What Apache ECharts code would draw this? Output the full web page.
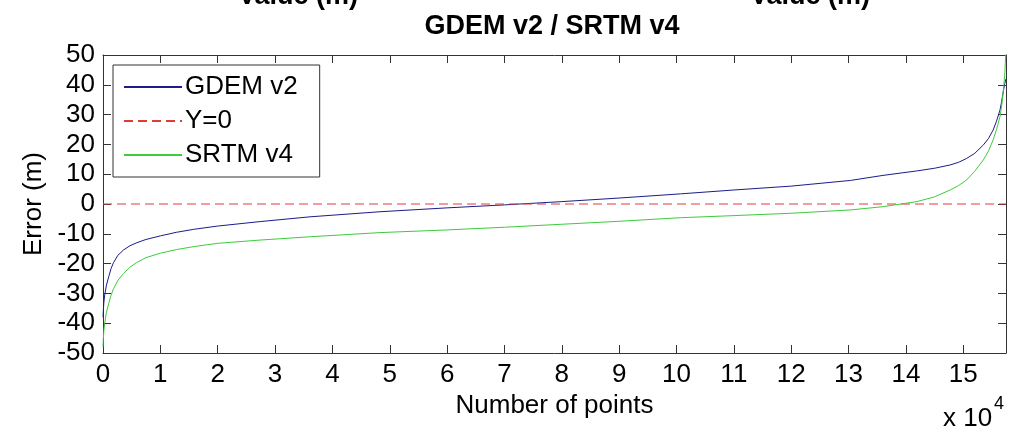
<!DOCTYPE html>
<html>
<head>
<meta charset="utf-8">
<script src="https://cdn.jsdelivr.net/npm/echarts@6/dist/echarts.min.js"></script>
<style>
  html, body { margin: 0; padding: 0; background: #fff; }
  #chart { width: 1009px; height: 431px; }
</style>
</head>
<body>
<div id="chart"></div>
<script>
const pointIndex = [0, 50, 150, 300, 600, 1000, 1400, 1850, 2600, 3600, 4700, 5900, 7500, 10000,
    12800, 15800, 20000, 27400, 36100, 48300, 60000, 70000, 80000, 90000, 100700, 110000,
    120000, 130300, 136000, 141900, 145000, 147700, 149200, 150600, 152000, 153500, 154400,
    155200, 155800, 156400, 156700, 157000, 157250, 157450];
const gdemV2 = [-38, -36, -33, -30.5, -27.2, -24.4, -21.7, -19.6, -17.2, -15.4, -14.0, -13.0, -11.9, -10.7,
    -9.5, -8.5, -7.4, -5.9, -4.3, -2.6, -1.3, -0.3, 0.8, 2.0, 3.4, 4.7,
    6.0, 7.9, 9.6, 11.1, 12.0, 13.1, 14.0, 15.3, 17.0, 19.8, 22.0,
    24.8, 27.8, 31.5, 34.5, 38.0, 40.5, 42];
const srtmV4 = [-48, -45.5, -42.5, -40, -36.3, -33.3, -30.6, -28.4, -25.6, -23.3, -21.2, -19.6, -18.0, -16.5,
    -15.3, -14.3, -13.2, -12.1, -11.0, -9.6, -8.7, -7.8, -6.8, -5.8, -4.6, -3.9,
    -3.1, -2.0, -0.9, 0.8, 2.4, 4.7, 6.2, 8.1, 11.0, 14.8, 17.8,
    21.5, 25.0, 29.3, 33, 38.3, 44, 52];
const zeroLine = [0, 0];
const xRange = [0, 157450];
const xTickStep = 10000;
const yRange = [-50, 50];
const yTickStep = 10;

const chart = echarts.init(document.getElementById('chart'));

const font = "'Liberation Sans', Arial, Helvetica, sans-serif";
const axisColor = '#333';

const pairs = (xs, ys) => xs.map((x, i) => [x, ys[i]]);

const xLabel = v => (v % xTickStep === 0 ? String(v / xTickStep) : '');

// box axes: ticks pointing inwards, no zero crossing
const boxAxis = (extra) => Object.assign({
    type: 'value',
    axisLine: {show: true, onZero: false, lineStyle: {color: axisColor}},
    axisTick: {inside: true, length: 8, lineStyle: {color: axisColor}},
    splitLine: {show: false}
}, extra);

let option = {
    animation: false,
    backgroundColor: '#fff',
    grid: {left: 103, right: 3, top: 55, bottom: 78},
    legend: {
        left: 113,
        top: 65,
        orient: 'vertical',
        backgroundColor: '#fff',
        borderColor: '#333',
        borderWidth: 1,
        borderRadius: 0,
        padding: [7, 22, 7, 10],
        itemWidth: 58,
        itemHeight: 14,
        itemGap: 4,
        itemStyle: {opacity: 0},
        textStyle: {fontFamily: font, fontSize: 26, color: '#000', lineHeight: 30, padding: [0, 0, 0, -2]},
        data: ['GDEM v2', 'Y=0', 'SRTM v4']
    },
    xAxis: [
        boxAxis({
            min: xRange[0],
            max: xRange[1],
            interval: xTickStep,
            name: 'Number of points',
            nameLocation: 'middle',
            nameGap: 38,
            nameTextStyle: {fontFamily: font, fontSize: 26, color: '#000'},
            axisLabel: {fontFamily: font, fontSize: 26, color: '#000', margin: 9, formatter: xLabel}
        }),
        boxAxis({
            position: 'top',
            min: xRange[0],
            max: xRange[1],
            interval: xTickStep,
            axisLabel: {show: false}
        })
    ],
    yAxis: [
        boxAxis({
            min: yRange[0],
            max: yRange[1],
            interval: yTickStep,
            name: 'Error (m)',
            nameLocation: 'middle',
            nameGap: 52,
            nameTextStyle: {fontFamily: font, fontSize: 26, color: '#000'},
            axisLabel: {fontFamily: font, fontSize: 26, color: '#000', margin: 8}
        }),
        boxAxis({
            position: 'right',
            min: yRange[0],
            max: yRange[1],
            interval: yTickStep,
            axisLabel: {show: false}
        })
    ],
    graphic: [
        // titles of the panels above, cut off by the crop
        {type: 'text', left: 238, top: -17, style: {text: 'Value (m)', fontFamily: font, fontSize: 27, fontWeight: 'bold', fill: '#000'}},
        {type: 'text', left: 750, top: -17, style: {text: 'Value (m)', fontFamily: font, fontSize: 27, fontWeight: 'bold', fill: '#000'}},
        {type: 'text', x: 552, y: 13, style: {text: 'GDEM v2 / SRTM v4', fontFamily: font, fontSize: 27, fontWeight: 'bold', fill: '#000', align: 'center'}},
        {type: 'text', left: 943, top: 406, style: {text: 'x 10', fontFamily: font, fontSize: 26, fill: '#000'}},
        {type: 'text', left: 994, top: 395, style: {text: '4', fontFamily: font, fontSize: 18, fill: '#000'}}
    ],
    series: [
        {
            name: 'GDEM v2',
            type: 'line',
            data: pairs(pointIndex, gdemV2),
            symbol: 'none',
            color: '#1c1c8a',
            lineStyle: {width: 1, color: '#1c1c8a'}
        },
        {
            name: 'Y=0',
            type: 'line',
            data: pairs(xRange, zeroLine),
            symbol: 'none',
            color: '#e03a3a',
            lineStyle: {width: 1, type: [9, 5], color: '#e03a3a'}
        },
        {
            name: 'SRTM v4',
            type: 'line',
            data: pairs(pointIndex, srtmV4),
            symbol: 'none',
            color: '#3ccc3c',
            lineStyle: {width: 1, color: '#3ccc3c'}
        }
    ]
};

chart.setOption(option);
</script>
</body>
</html>
